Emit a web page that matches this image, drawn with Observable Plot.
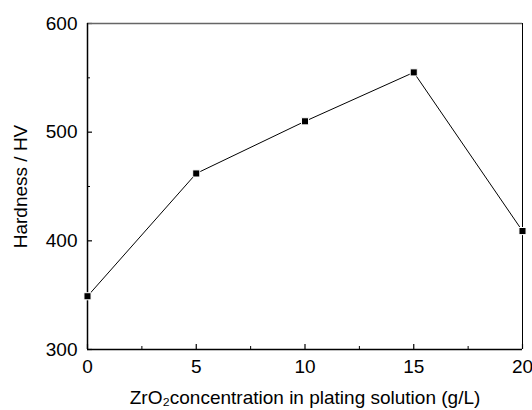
<!DOCTYPE html>
<html><head><meta charset="utf-8">
<script src="https://cdn.jsdelivr.net/npm/d3@7"></script>
<script src="https://cdn.jsdelivr.net/npm/@observablehq/plot@0.6"></script>
<style>body{margin:0;background:#fff;} svg{font-family:"Liberation Sans",Arial,sans-serif;}</style>
</head><body><div id="chart"></div>
<script>
const concentration = [0, 5, 10, 15, 20];
const hardness = [349, 462, 510, 555, 409];
const xMajor = [0, 5, 10, 15, 20];
const xMinor = [2.5, 7.5, 12.5, 17.5];
const yMajor = [300, 400, 500, 600];
const yMinor = [350, 450, 550];
const data = concentration.map((c, i) => ({c, h: hardness[i]}));

const W = 532, H = 410, ML = 87, MR = 10, MT = 23, MB = 61;
const innerW = W - ML - MR, innerH = H - MT - MB;

const chart = Plot.plot({
  width: W, height: H,
  marginLeft: ML, marginRight: MR, marginTop: MT, marginBottom: MB,
  style: {fontFamily: "Liberation Sans, Arial, sans-serif", background: "white", overflow: "visible", color: "black"},
  x: {domain: [0, 20]},
  y: {domain: [300, 600]},
  marks: [
    Plot.axisX({ticks: xMajor, tickSize: 0, tickPadding: 10, fontSize: 19, label: null, fill: "black"}),
    Plot.axisY({ticks: yMajor, tickSize: 0, tickPadding: 10, fontSize: 19, label: null, fill: "black"}),
    // inward ticks
    Plot.tickX(xMajor, {x: d => d, stroke: "black", strokeWidth: 1.2, insetTop: innerH - 5}),
    Plot.tickX(xMinor, {x: d => d, stroke: "black", strokeWidth: 1, insetTop: innerH - 3}),
    Plot.tickY(yMajor, {y: d => d, stroke: "black", strokeWidth: 1.2, insetRight: innerW - 5}),
    Plot.tickY(yMinor, {y: d => d, stroke: "black", strokeWidth: 1, insetRight: innerW - 3}),
    // frame
    Plot.ruleX([20], {stroke: "black", strokeWidth: 1}),
    Plot.ruleY([600], {stroke: "#666", strokeWidth: 1.5}),
    Plot.ruleY([300], {stroke: "black", strokeWidth: 1.5}),
    Plot.ruleX([0], {stroke: "black", strokeWidth: 1.5}),
    Plot.line(data, {x: "c", y: "h", stroke: "black", strokeWidth: 1}),
    Plot.dot(data, {x: "c", y: "h", symbol: "square", r: 4, fill: "black", stroke: "white", strokeWidth: 1}),
    Plot.text(["ZrO\u2082concentration in plating solution (g/L)"], {frameAnchor: "bottom", dy: 54, fontSize: 19, fill: "black"}),
    Plot.text(["Hardness / HV"], {frameAnchor: "left", dx: -67, rotate: -90, textAnchor: "middle", lineAnchor: "middle", fontSize: 19, fill: "black"})
  ]
});
document.getElementById("chart").append(chart);
</script></body></html>
